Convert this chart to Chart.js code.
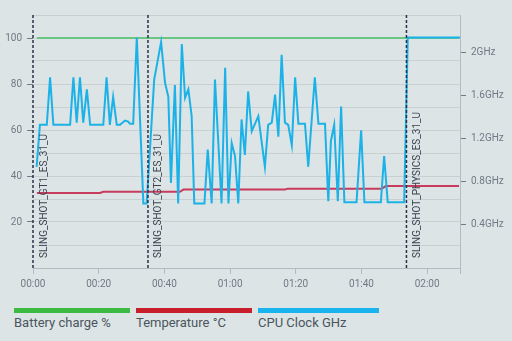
<!DOCTYPE html>
<html>
<head>
<meta charset="utf-8">
<script src="https://cdn.jsdelivr.net/npm/chart.js@4/dist/chart.umd.min.js"></script>
<style>
  html, body { margin: 0; padding: 0; background: #dce4e5; }
  #wrap { position: relative; width: 512px; height: 341px; overflow: hidden; }
  #plot { position: absolute; left: 0; top: 0; width: 512px; height: 296px; }
  #legend { position: absolute; left: 14px; top: 308px; display: flex; gap: 6px;
            font-family: Roboto, "Noto Sans", sans-serif; font-size: 13px; color: #4b5560; }
  #legend .item { width: 116px; }
  #legend .item:last-child { width: 121px; }
  #legend .bar { height: 5px; }
  #legend .txt { margin-top: 2px; line-height: 16px; white-space: nowrap; }
</style>
</head>
<body>
<div id="wrap">
  <div id="plot"><canvas id="chart"></canvas></div>
  <div id="legend"></div>
</div>
<script>
// elapsed seconds of each sample
const batteryTimes = [1.2, 129.7];
const batteryPct = [100, 100];

const tempTimes = [1.2, 20.4, 21.4, 44.7, 45.8, 76.7, 77.6, 106.2, 107.4, 129.7];
const tempC = [32.6, 32.6, 33.1, 33.1, 34.1, 34.1, 34.5, 34.5, 35.6, 35.6];

const cpuTimes = [
  1.1, 2.1, 4.2, 5.2, 6.2, 11.3, 12.3, 13.3, 14.3, 15.3, 16.4, 17.4, 21.4, 22.4, 23.4, 24.4,
  25.5, 26.5, 28.0, 29.0, 29.5, 30.5, 31.6, 33.6, 34.6, 36.9, 39.0, 40.2, 41.2, 42.0, 43.2, 44.2,
  45.3, 46.3, 47.3, 48.3, 49.1, 52.2, 53.2, 54.4, 55.4, 57.4, 58.5, 59.5, 60.5, 61.5, 62.5, 63.5,
  64.5, 65.5, 66.6, 68.6, 70.6, 71.6, 72.7, 73.7, 74.7, 75.7, 76.7, 77.7, 78.8, 79.8, 80.8, 82.8,
  83.8, 85.8, 86.9, 88.9, 89.9, 90.7, 91.7, 92.8, 93.8, 94.8, 98.5, 99.9, 100.9, 105.9, 106.9, 108.0,
  113.0, 114.1, 130
];
const cpuGHz = [
  0.94, 1.33, 1.33, 1.77, 1.33, 1.33, 1.77, 1.35, 1.77, 1.35, 1.66, 1.33, 1.33, 1.77, 1.33, 1.59,
  1.33, 1.33, 1.37, 1.36, 1.34, 1.34, 2.14, 0.60, 0.60, 1.75, 2.10, 1.72, 1.59, 0.79, 1.70, 0.60,
  2.08, 1.58, 1.66, 1.41, 0.60, 0.60, 1.10, 0.60, 1.75, 0.60, 1.86, 0.60, 1.16, 1.04, 0.60, 1.38,
  1.05, 1.64, 1.27, 1.41, 0.94, 1.33, 1.35, 1.61, 1.22, 1.98, 1.35, 1.33, 1.14, 1.77, 1.34, 1.34,
  0.94, 1.77, 1.34, 1.34, 0.62, 1.18, 1.33, 0.62, 1.50, 0.61, 0.61, 1.28, 0.61, 0.61, 1.04, 0.61,
  0.61, 2.14, 2.14
];

const markerTimes = [0, 35, 113.7];
const markerLabels = ['SLING_SHOT_GT1_ES_31_U', 'SLING_SHOT_GT2_ES_31_U', 'SLING_SHOT_PHYSICS_ES_31_U'];

const xTicks = [0, 20, 40, 60, 80, 100, 120, 130];
const leftTicks = [20, 40, 60, 80, 100];
const rightTicks = [0.4, 0.8, 1.2, 1.6, 2.0];

const seriesLabels = ['Battery charge %', 'Temperature °C', 'CPU Clock GHz'];
const legendColors = ['#3dba41', '#c81e2c', '#19b3ee'];

const pairs = (xs, ys) => xs.map((x, i) => ({ x: x, y: ys[i] }));
const mmss = v => String(Math.floor(v / 60)).padStart(2, '0') + ':' + String(v % 60).padStart(2, '0');

const tickFont = { family: 'Roboto', size: 10 };
const tickGray = '#6f7a84';
const gridGray = '#c8d0d2';
const axisGray = '#b3bcc0';

// dashed run markers with their rotated test names
const runMarkers = {
  id: 'runMarkers',
  afterDatasetsDraw(chart) {
    const { ctx, chartArea, scales } = chart;
    ctx.save();
    markerTimes.forEach((t, i) => {
      const x = scales.x.getPixelForValue(t);
      ctx.strokeStyle = '#28324a';
      ctx.lineWidth = 1.5;
      ctx.setLineDash([3, 2]);
      ctx.beginPath();
      ctx.moveTo(x, chartArea.top);
      ctx.lineTo(x, chartArea.bottom);
      ctx.stroke();

      ctx.save();
      ctx.translate(x + 11, chartArea.bottom - 10);
      ctx.rotate(-Math.PI / 2);
      ctx.fillStyle = '#3b4552';
      ctx.font = '10px Roboto';
      ctx.textAlign = 'left';
      ctx.textBaseline = 'middle';
      ctx.fillText(markerLabels[i], 0, 0);
      ctx.restore();
    });
    ctx.restore();
  }
};

const chart = new Chart(document.getElementById('chart').getContext('2d'), {
  type: 'line',
  data: {
    datasets: [
      {
        label: seriesLabels[0],
        data: pairs(batteryTimes, batteryPct),
        borderColor: '#6cc585',
        borderWidth: 2,
        yAxisID: 'y',
        order: 2
      },
      {
        label: seriesLabels[1],
        data: pairs(tempTimes, tempC),
        borderColor: '#c83a5e',
        borderWidth: 2,
        yAxisID: 'y',
        order: 1
      },
      {
        label: seriesLabels[2],
        data: pairs(cpuTimes, cpuGHz),
        borderColor: '#1cb2e8',
        borderWidth: 2,
        yAxisID: 'y1',
        order: 0
      }
    ]
  },
  options: {
    responsive: true,
    maintainAspectRatio: false,
    animation: false,
    layout: { padding: { top: 15, left: 0, right: 0, bottom: 0 } },
    elements: {
      point: { radius: 0 },
      line: { tension: 0, fill: false }
    },
    plugins: {
      legend: { display: false },
      tooltip: { enabled: false }
    },
    scales: {
      x: {
        type: 'linear',
        min: 0,
        max: 130,
        afterBuildTicks: s => { s.ticks = xTicks.map(v => ({ value: v })); },
        afterFit: s => { s.height = 28; },
        grid: { drawOnChartArea: false, tickLength: 6, tickColor: axisGray },
        border: { display: true, color: axisGray },
        ticks: {
          padding: 4,
          maxRotation: 0,
          color: tickGray,
          font: tickFont,
          callback: v => (v === 130 ? '' : mmss(v))
        }
      },
      y: {
        position: 'left',
        min: 0,
        max: 110,
        afterBuildTicks: s => {
          const t = [];
          for (let v = 0; v <= 110; v += 10) t.push({ value: v });
          s.ticks = t;
        },
        afterFit: s => { s.width = 33; },
        grid: {
          color: gridGray,
          tickLength: 6,
          tickColor: c => (leftTicks.includes(c.tick.value) ? tickGray : 'rgba(0,0,0,0)')
        },
        border: { display: false },
        ticks: {
          padding: 5,
          color: tickGray,
          font: tickFont,
          callback: v => (leftTicks.includes(v) ? String(v) : '')
        }
      },
      y1: {
        position: 'right',
        min: 0,
        max: 2.35,
        afterBuildTicks: s => { s.ticks = rightTicks.map(v => ({ value: v })); },
        afterFit: s => { s.width = 52; },
        grid: { drawOnChartArea: false, tickLength: 6, tickColor: tickGray },
        border: { display: true, color: axisGray },
        ticks: {
          padding: 5,
          color: tickGray,
          font: tickFont,
          callback: v => (Math.round(v * 10) / 10) + 'GHz'
        }
      }
    }
  },
  plugins: [runMarkers]
});

// legend: colour bar with the series name underneath
const legend = document.getElementById('legend');
chart.data.datasets.forEach((ds, i) => {
  const item = document.createElement('div');
  item.className = 'item';
  const bar = document.createElement('div');
  bar.className = 'bar';
  bar.style.background = legendColors[i];
  const txt = document.createElement('div');
  txt.className = 'txt';
  txt.textContent = ds.label;
  item.appendChild(bar);
  item.appendChild(txt);
  legend.appendChild(item);
});
</script>
</body>
</html>
